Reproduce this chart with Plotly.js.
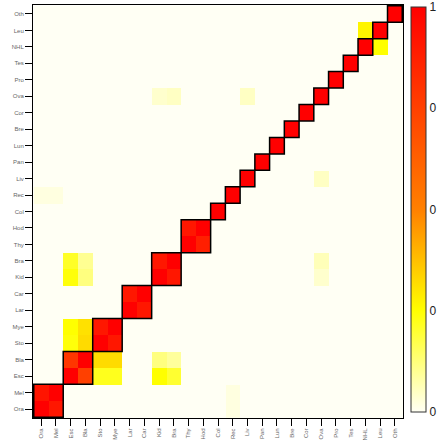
<!DOCTYPE html>
<html>
<head>
<meta charset="utf-8">
<script src="https://cdn.plot.ly/plotly-3.0.1.min.js"></script>
<style>html,body{margin:0;padding:0;background:#fff;}#chart{width:439px;height:446px;}</style>
</head>
<body>
<div id="chart"></div>
<script>
// Categories (bottom-to-top on y, left-to-right on x)
const labels = ["Ora","Mel","Esc","Bla","Sto","Mye","Lar","Car","Kid","Bra","Thy","Hod","Col","Rec","Liv","Pan","Lun","Bre","Cor","Ova","Pro","Tes","NHL","Leu","Oth"];
// Diagonal values
const diagValues = labels.map(function(){ return 1; });
// Cluster sizes (consecutive blocks along the diagonal)
const clusterSizes = [2,2,2,2,2,2,1,1,1,1,1,1,1,1,1,1,1,1,1];
// Off-diagonal entries: row label, column label, value
const offRows = ["Mel","Ora","Bla","Esc","Mye","Sto","Car","Lar","Bra","Kid","Hod","Thy",
  "Mye","Sto","Mye","Sto","Bla","Bla","Esc","Esc",
  "Bla","Bla","Esc","Esc","Bra","Bra","Kid","Kid",
  "Leu","NHL","Ova","Ova","Ova","Liv","Bra","Kid","Rec","Rec","Mel","Ora"];
const offCols = ["Ora","Mel","Esc","Bla","Sto","Mye","Lar","Car","Kid","Bra","Thy","Hod",
  "Esc","Esc","Bla","Bla","Sto","Mye","Sto","Mye",
  "Kid","Bra","Kid","Bra","Esc","Bla","Esc","Bla",
  "NHL","Leu","Kid","Bra","Liv","Ova","Ova","Ova","Ora","Mel","Rec","Rec"];
const offVals = [0.92,0.91,0.79,0.75,0.91,0.91,0.91,0.91,0.91,0.91,0.91,0.88,
  0.25,0.24,0.31,0.32,0.32,0.32,0.22,0.22,
  0.12,0.09,0.25,0.2,0.21,0.1,0.24,0.12,
  0.27,0.25,0.04,0.05,0.05,0.05,0.06,0.04,0.02,0.02,0.02,0.02];
const cbTickVals = [0,0.25,0.5,0.75,1];
const cbTickText = ["0","0","0","0","1"];

const n = labels.length;
const z = [];
for (let r = 0; r < n; r++) { z.push(new Array(n).fill(0)); z[r][r] = diagValues[r]; }
for (let k = 0; k < offVals.length; k++) {
  z[labels.indexOf(offRows[k])][labels.indexOf(offCols[k])] = offVals[k];
}

// block outlines from cluster sizes
const shapes = [];
let start = 0;
clusterSizes.forEach(function(s){
  shapes.push({type:'rect', xref:'x', yref:'y', x0:start-0.5, x1:start+s-0.5, y0:start-0.5, y1:start+s-0.5,
    line:{color:'#000', width:1.5}, fillcolor:'rgba(0,0,0,0)'});
  start += s;
});

const trace = {
  type:'heatmap', x:labels, y:labels, z:z, zmin:0, zmax:1,
  colorscale:[[0,'#FFFFF4'],[0.25,'#FFFF00'],[0.5,'#FF8000'],[1,'#FF0000']],
  xgap:0, ygap:0, hoverinfo:'skip',
  colorbar:{
    thickness:15, thicknessmode:'pixels', len:405, lenmode:'pixels',
    x:1.0215, xanchor:'left', xpad:0, y:0.505, yanchor:'middle', ypad:0,
    outlinecolor:'#333', outlinewidth:1,
    tickmode:'array', tickvals:cbTickVals, ticktext:cbTickText,
    ticks:'', tickfont:{family:'Liberation Sans, Arial, sans-serif', size:12, color:'#222'}
  }
};

const axisFont = {family:'Liberation Sans, Arial, sans-serif', size:6, color:'#666'};
const layout = {
  width:439, height:446,
  margin:{l:33, r:34, t:5, b:28},
  paper_bgcolor:'#fff', plot_bgcolor:'#fff',
  xaxis:{type:'category', tickangle:-90, tickfont:axisFont, ticks:'outside', ticklen:7, tickcolor:'#000',
    showline:true, linecolor:'#000', linewidth:1, mirror:true, showgrid:false, zeroline:false, fixedrange:true},
  yaxis:{type:'category', tickfont:axisFont, ticks:'outside', ticklen:7, tickcolor:'#000',
    showline:true, linecolor:'#000', linewidth:1, mirror:true, showgrid:false, zeroline:false, fixedrange:true},
  shapes:shapes
};
Plotly.newPlot('chart', [trace], layout, {displayModeBar:false, staticPlot:true});
</script>
</body>
</html>
